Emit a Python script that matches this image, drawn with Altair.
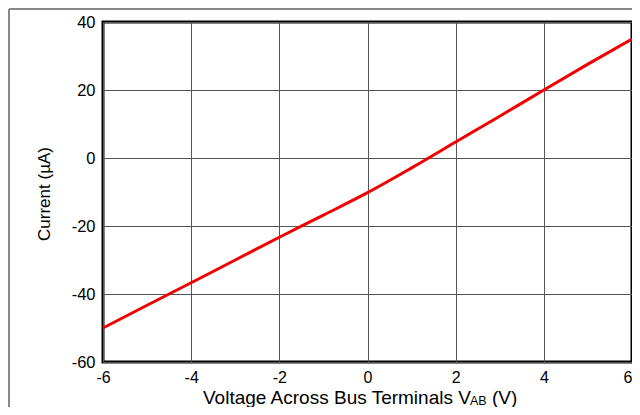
import altair as alt
import pandas as pd

voltage = [-6, -5, -4, -3, -2, -1, 0, 1, 2, 3, 4, 5, 6]
current = [-50, -43.3, -36.7, -30, -23.3, -16.8, -10.2, -2.9, 4.7, 12.3, 20, 27.6, 35]
x_ticks = [-6, -4, -2, 0, 2, 4, 6]
y_ticks = [-60, -40, -20, 0, 20, 40]

df = pd.DataFrame({"V": voltage, "I": current})
one = pd.DataFrame({"k": [0]})

FONT = "Liberation Sans"
W, H = 529, 340

line = alt.Chart(df).mark_line(color="#f00000", strokeWidth=3, interpolate="monotone").encode(
    x=alt.X("V:Q", scale=alt.Scale(domain=[-6, 6], nice=False),
            axis=alt.Axis(values=x_ticks, title=None, ticks=False, domain=False,
                          labelFontSize=16, labelFont=FONT, labelColor="#000",
                          labelPadding=7, gridColor="#555", gridWidth=1, gridOpacity=1,
                          labelFlush=False, labelExpr="'' + datum.value",
                          labelAlign=alt.ExprRef(expr="datum.value == 6 ? 'right' : 'center'"))),
    y=alt.Y("I:Q", scale=alt.Scale(domain=[-60, 40], nice=False),
            axis=alt.Axis(values=y_ticks, title=None, ticks=False, domain=False,
                          labelFontSize=16.5, labelFont=FONT, labelColor="#000",
                          labelPadding=8, gridColor="#555", gridWidth=1, gridOpacity=1,
                          labelFlush=False, labelExpr="'' + datum.value")),
)

txt = alt.Chart(one)
y_title = txt.mark_text(align="center", baseline="alphabetic", angle=270, fontSize=17,
                        font=FONT, color="#000").encode(
    x=alt.value(-53), y=alt.value(172), text=alt.value("Current (µA)"))
title_main = txt.mark_text(align="left", baseline="alphabetic", fontSize=19, font=FONT, color="#000").encode(
    x=alt.value(100), y=alt.value(382), text=alt.value("Voltage Across Bus Terminals V"))
title_sub = txt.mark_text(align="left", baseline="alphabetic", fontSize=12.5, font=FONT, color="#000").encode(
    x=alt.value(367), y=alt.value(383), text=alt.value("AB"))
title_end = txt.mark_text(align="left", baseline="alphabetic", fontSize=19, font=FONT, color="#000").encode(
    x=alt.value(389), y=alt.value(382), text=alt.value("(V)"))

frame_left = txt.mark_rule(color="#888", strokeWidth=2).encode(
    x=alt.value(-94), y=alt.value(-13), y2=alt.value(420))
frame_top = txt.mark_rule(color="#888", strokeWidth=2).encode(
    x=alt.value(-94), x2=alt.value(560), y=alt.value(-13))

chart = alt.layer(frame_left, frame_top, line, y_title, title_main, title_sub, title_end).properties(
    width=W, height=H,
    autosize=alt.AutoSizeParams(type="none"),
    padding={"left": 95, "top": 14, "right": 0, "bottom": 45},
    background="white",
).configure_view(stroke="#000", strokeWidth=3).configure_axis(grid=True)

chart.save("out.html", embed_options={"renderer": "svg", "actions": False})
